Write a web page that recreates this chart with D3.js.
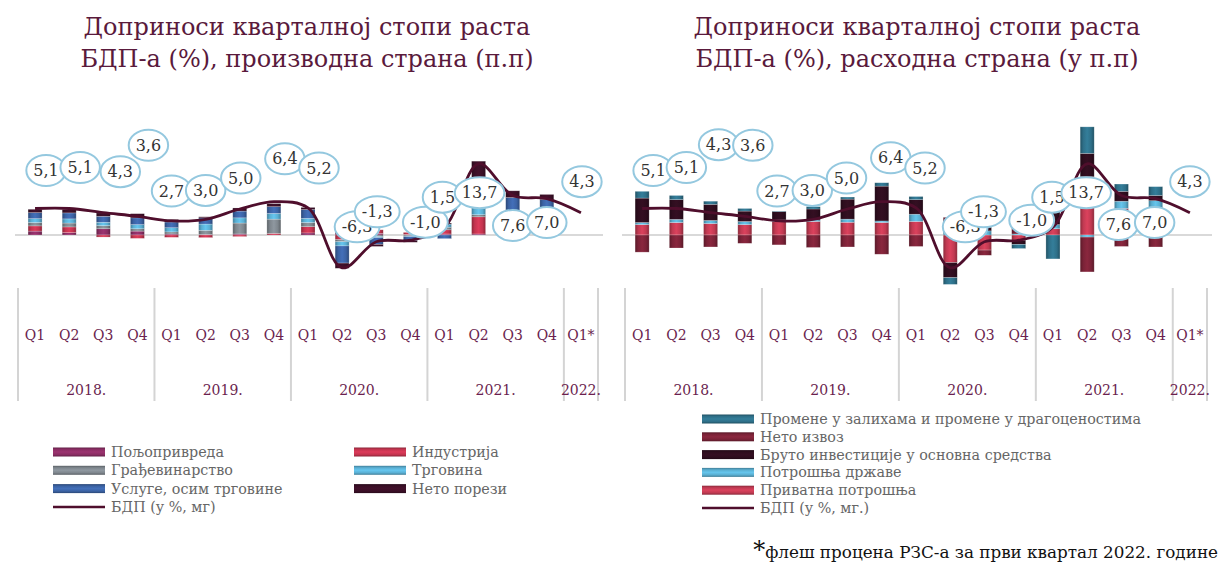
<!DOCTYPE html>
<html>
<head>
<meta charset="utf-8">
<script src="https://cdn.jsdelivr.net/npm/d3@7"></script>
<style>
  body { margin: 0; background: #fff; }
  svg { display: block; font-family: "DejaVu Serif", serif; }
</style>
</head>
<body>
<div id="chart"></div>
<script>
const quarters = ['Q1', 'Q2', 'Q3', 'Q4', 'Q1', 'Q2', 'Q3', 'Q4', 'Q1', 'Q2', 'Q3', 'Q4', 'Q1', 'Q2', 'Q3', 'Q4', 'Q1*'];
const years = ['2018.', '2019.', '2020.', '2021.', '2022.'];
const quartersPerYear = [4, 4, 4, 4, 1];
const gdp = [5.1, 5.1, 4.3, 3.6, 2.7, 3.0, 5.0, 6.4, 5.2, -6.3, -1.3, -1.0, 1.5, 13.7, 7.6, 7.0, 4.3];

// production side (bottom to top of the stack)
const prodNames = ['Пољопривреда', 'Индустрија', 'Грађевинарство', 'Трговина', 'Услуге, осим трговине', 'Нето порези'];
const agriculture = [0.75, 0.45, 1.2, 0.75, 0.2, 0.1, 0.2, 0.0, 0.4, 0.6, 0.3, 0.1, 0.2, 0.2, -0.2, -0.3];
const industry = [1.0, 1.1, -0.4, -0.65, -0.45, -0.5, -0.3, 0.3, 1.2, -0.9, 0.7, 0.4, 0.8, 3.3, 0.8, 0.6];
const construction = [0.65, 0.75, 0.6, 0.45, 0.4, 0.8, 2.1, 2.75, 0.8, -0.4, -0.3, -0.2, 0.5, 0.4, 2.0, 2.0];
const trade = [0.75, 0.8, 0.65, 0.8, 0.8, 1.2, 1.0, 1.1, 0.8, -0.8, -0.2, -0.1, 0.6, 2.0, 1.8, 1.6];
const services = [1.15, 1.15, 1.15, 1.3, 1.1, 1.2, 1.3, 1.3, 1.7, -3.3, -1.3, -0.8, -0.7, 5.2, 2.6, 2.6];
const netTaxes = [0.65, 0.65, 0.65, 0.8, 0.5, 0.2, 0.6, 0.6, 0.4, -1.0, -0.4, -0.3, 0.2, 3.1, 1.3, 1.0];

// expenditure side (bottom to top of the stack)
const expNames = ['Приватна потрошња', 'Потрошња државе', 'Бруто инвестиције у основна средства', 'Нето извоз', 'Промене у залихама и промене у драгоценостима'];
const privateCons = [2.0, 2.4, 2.2, 2.0, 2.6, 2.6, 2.45, 2.4, 2.6, -5.3, -2.9, -1.0, 1.2, 11.2, 5.1, 5.3];
const govCons = [0.4, 0.6, 0.6, 0.6, 0.3, 0.3, 0.6, 0.3, 1.4, 0.8, 0.8, 0.2, 0.8, -0.4, 1.4, 1.3];
const investment = [4.7, 3.8, 3.1, 2.0, 1.6, 2.1, 3.85, 6.7, 2.8, -2.9, 0.6, -0.8, 2.6, 4.5, 1.9, 1.0];
const netExports = [-3.3, -2.5, -2.3, -1.6, -1.9, -2.4, -2.3, -3.7, -2.2, 2.6, -1.0, 1.4, 1.5, -6.7, -2.2, -2.3];
const inventories = [1.3, 0.8, 0.6, 0.5, 0.1, 0.45, 0.4, 0.65, 0.6, -1.3, 1.2, -0.8, -4.6, 5.1, 1.4, 1.7];

const W = 1224, H = 564;
const lineColor = '#4f0e2c';
const labelColor = '#6b1f4f';

// where each value bubble sits relative to its point (px)
const prodLabelNudge = [[11, -38], [11, -41], [17, -41], [11, -71], [0, -30], [0, -29], [1, -31], [11, -43], [11, -40],
  [15, -41], [1, -30], [15, -18], [-2, -30], [1, 29], [0, 30], [0, 24], [1, -31]];
const expLabelNudge = [[11, -38], [10, -41], [8, -68], [8, -71], [-2, -30], [-1, -29], [-1, -31], [9, -44], [9, -40],
  [15, -41], [-1, -30], [13, -20], [-1, -30], [-1, 29], [-3, 29], [-1, 24], [0, -31]];

const svg = d3.select('#chart').append('svg')
  .attr('width', W)
  .attr('height', H);
const defs = svg.append('defs');

let gradId = 0;
function bevel(color, vertical) {
  const id = 'bev' + (gradId++);
  const c = d3.color(color);
  const g = defs.append('linearGradient').attr('id', id)
    .attr('x1', 0).attr('y1', 0)
    .attr('x2', vertical ? 0 : 1).attr('y2', vertical ? 1 : 0);
  [[0, c.darker(0.9)], [0.22, c], [0.5, c.brighter(0.35)], [0.78, c], [1, c.darker(0.9)]]
    .forEach(([o, col]) => g.append('stop').attr('offset', o).attr('stop-color', col));
  return `url(#${id})`;
}

const y = d3.scaleLinear().domain([-10, 22]).range([287, 120.6]);

function drawChart(cfg) {
  const g = svg.append('g');
  const n = quarters.length;

  const x = d3.scaleBand()
    .domain(d3.range(n))
    .range([cfg.left, cfg.right])
    .paddingInner(0.59)
    .paddingOuter(0.295);
  const cx = i => x(i) + x.bandwidth() / 2;

  // title
  g.append('text')
    .attr('x', cfg.titleX).attr('y', 35)
    .attr('text-anchor', 'middle')
    .attr('font-size', 24).attr('fill', '#5a1a3c')
    .selectAll('tspan')
    .data(cfg.title)
    .join('tspan')
    .attr('x', cfg.titleX)
    .attr('dy', (d, i) => i ? 32 : 0)
    .text(d => d);

  // zero line
  g.append('line')
    .attr('x1', cfg.left - 3).attr('x2', cfg.right + 5)
    .attr('y1', y(0)).attr('y2', y(0))
    .attr('stroke', '#d9d9d9').attr('stroke-width', 2);

  // stacked bars
  const rows = d3.range(cfg.series[0].length).map(i => {
    const r = { i };
    cfg.series.forEach((s, k) => r[k] = s[i]);
    return r;
  });
  const stack = d3.stack()
    .keys(d3.range(cfg.series.length))
    .offset(d3.stackOffsetDiverging)(rows);

  const fills = cfg.colors.map(c => bevel(c, false));
  g.append('g')
    .selectAll('g')
    .data(stack)
    .join('g')
    .attr('fill', (d, k) => fills[k])
    .selectAll('rect')
    .data(d => d)
    .join('rect')
    .attr('x', d => x(d.data.i))
    .attr('width', x.bandwidth())
    .attr('y', d => y(Math.max(d[0], d[1])))
    .attr('height', d => Math.abs(y(d[0]) - y(d[1])))
    .attr('stroke', '#ffffff')
    .attr('stroke-opacity', 0.35)
    .attr('stroke-width', 0.6);

  // GDP line
  g.append('path')
    .datum(gdp)
    .attr('fill', 'none')
    .attr('stroke', lineColor)
    .attr('stroke-width', 2.8)
    .attr('d', d3.line().x((d, i) => cx(i)).y(d => y(d)).curve(d3.curveCatmullRom.alpha(0.5)));

  // value bubbles
  const fmt = v => d3.format('.1f')(v).replace('.', ',').replace('−', '-');
  const bubbles = g.append('g')
    .selectAll('g')
    .data(gdp)
    .join('g')
    .attr('transform', (d, i) => `translate(${cx(i) + cfg.nudge[i][0]},${y(d) + cfg.nudge[i][1]})`);
  bubbles.append('ellipse')
    .attr('fill', '#fff')
    .attr('stroke', '#94c8df')
    .attr('stroke-width', 2);
  bubbles.append('text')
    .attr('text-anchor', 'middle')
    .attr('dy', '0.35em')
    .attr('font-size', 16)
    .attr('fill', '#333')
    .text(fmt);
  bubbles.each(function () {
    const w = d3.select(this).select('text').node().getComputedTextLength();
    d3.select(this).select('ellipse').attr('rx', w / 2 + 7).attr('ry', 15.5);
  });

  // category axis: quarters, years and separators
  g.append('g')
    .selectAll('text')
    .data(quarters)
    .join('text')
    .attr('x', (d, i) => cx(i))
    .attr('y', 340)
    .attr('text-anchor', 'middle')
    .attr('font-size', 14)
    .attr('fill', labelColor)
    .text(d => d);

  const starts = d3.cumsum([0, ...quartersPerYear]);
  const edge = k => k < n ? x(k) - x.step() * x.paddingInner() / 2 : cfg.right;
  g.append('g')
    .selectAll('line')
    .data(starts)
    .join('line')
    .attr('x1', k => edge(k)).attr('x2', k => edge(k))
    .attr('y1', 288).attr('y2', 401)
    .attr('stroke', '#d4d4d4').attr('stroke-width', 2);

  g.append('g')
    .selectAll('text')
    .data(years)
    .join('text')
    .attr('x', (d, j) => (edge(starts[j]) + edge(starts[j + 1])) / 2)
    .attr('y', 395)
    .attr('text-anchor', 'middle')
    .attr('font-size', 14)
    .attr('fill', labelColor)
    .text(d => d);

  // legend
  const legendFills = cfg.colors.map(c => bevel(c, true));
  const items = cfg.legendOrder.map(k => ({ name: cfg.names[k], fill: legendFills[k] }));
  items.push({ name: cfg.lineName, line: true });
  const leg = g.append('g')
    .selectAll('g')
    .data(items)
    .join('g')
    .attr('transform', (d, i) => {
      const [col, row] = cfg.legendCols === 2 && !d.line ? [i % 2, Math.floor(i / 2)] : [0, d.line && cfg.legendCols === 2 ? 3 : i];
      return `translate(${cfg.legendX + col * cfg.legendColW},${cfg.legendY + row * cfg.legendRowH})`;
    });
  leg.filter(d => !d.line).append('rect')
    .attr('y', -4.5).attr('width', 52).attr('height', 9)
    .attr('fill', d => d.fill);
  leg.filter(d => d.line).append('line')
    .attr('x2', 52)
    .attr('stroke', lineColor).attr('stroke-width', 2.5);
  leg.append('text')
    .attr('x', 58)
    .attr('dy', '0.35em')
    .attr('font-size', 14.3)
    .attr('fill', '#666')
    .text(d => d.name);
}

drawChart({
  left: 18, right: 598, titleX: 307,
  title: ['Доприноси кварталној стопи раста', 'БДП-а (%), производна страна (п.п)'],
  series: [agriculture, industry, construction, trade, services, netTaxes],
  names: prodNames,
  colors: ['#8a2d63', '#c3344f', '#7e868d', '#5aafd3', '#3b62a3', '#3a0f26'],
  legendOrder: [0, 1, 2, 3, 4, 5],
  legendCols: 2, legendX: 53, legendY: 452, legendColW: 301, legendRowH: 18.3,
  lineName: 'БДП (у %, мг)',
  nudge: prodLabelNudge
});

drawChart({
  left: 625, right: 1207, titleX: 917,
  title: ['Доприноси кварталној стопи раста', 'БДП-а (%), расходна страна (у п.п)'],
  series: [privateCons, govCons, investment, netExports, inventories],
  names: expNames,
  colors: ['#c13a52', '#5aaed0', '#2e0d1e', '#7a2237', '#2e6f88'],
  legendOrder: [4, 3, 2, 1, 0],
  legendCols: 1, legendX: 702, legendY: 419, legendColW: 0, legendRowH: 17.8,
  lineName: 'БДП (у %, мг.)',
  nudge: expLabelNudge
});

// footnote
const foot = svg.append('text')
  .attr('x', 1218).attr('y', 558)
  .attr('text-anchor', 'end')
  .attr('font-size', 16.8)
  .attr('fill', '#111');
foot.append('tspan').attr('font-size', 24).attr('dy', 0).text('*');
foot.append('tspan').text('флеш процена РЗС-а за први квартал 2022. године');
</script>
</body>
</html>
